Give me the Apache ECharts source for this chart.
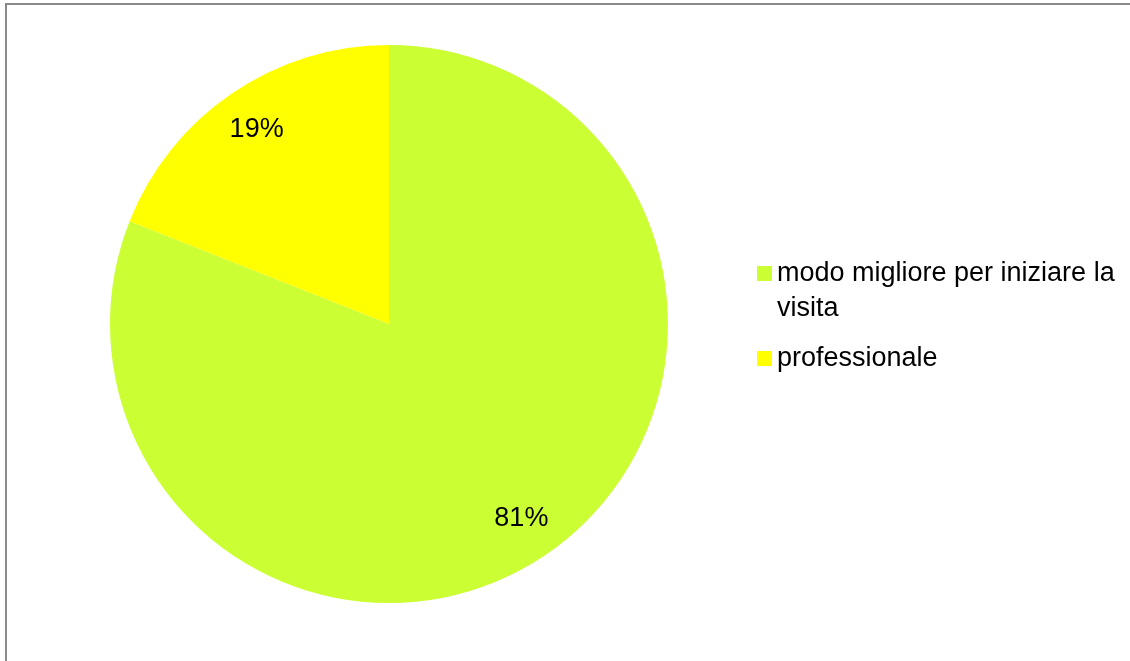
<!DOCTYPE html>
<html>
<head>
<meta charset="utf-8">
<script src="https://cdn.jsdelivr.net/npm/echarts@6/dist/echarts.min.js"></script>
<style>
  html, body { margin: 0; padding: 0; background: #fff; }
  #chart { width: 1130px; height: 661px; }
</style>
</head>
<body>
<div id="chart"></div>
<script>
// Categories and their shares (percent)
const categories = ['modo migliore per iniziare la visita', 'professionale'];
const shares = [81, 19];
const sliceColors = ['#ccff33', '#ffff00'];

const FONT = '"Liberation Sans", Arial, sans-serif';
const pieData = categories.map((name, i) => ({
  name: name,
  value: shares[i],
  itemStyle: { color: sliceColors[i] }
}));

const chart = echarts.init(document.getElementById('chart'), null, { renderer: 'canvas' });
chart.setOption({
  animation: false,
  backgroundColor: '#ffffff',
  graphic: [{
    type: 'rect',
    shape: { x: 6, y: 4, width: 1300, height: 1000 },
    style: { fill: 'none', stroke: '#8a8a8a', lineWidth: 2 },
    silent: true
  }],
  legend: {
    orient: 'vertical',
    left: 757,
    top: 221,
    padding: 0,
    itemWidth: 15,
    itemHeight: 15,
    itemGap: 15,
    icon: 'rect',
    selectedMode: false,
    // a leading blank line keeps the first text line level with its swatch
    // when the long name wraps onto a second line
    formatter: name => (name === categories[0] ? '\n' + name : name),
    textStyle: {
      fontFamily: FONT,
      fontSize: 27,
      color: '#000',
      lineHeight: 35,
      width: 350,
      overflow: 'break'
    },
    data: categories
  },
  series: [
    {
      type: 'pie',
      center: [389, 324],
      radius: [0, 279],
      startAngle: 90,
      clockwise: true,
      silent: true,
      label: { show: false },
      labelLine: { show: false },
      itemStyle: { borderWidth: 0 },
      data: pieData
    },
    {
      // transparent ring that only carries the percentage labels
      type: 'pie',
      center: [389, 324],
      radius: [186, 279],
      startAngle: 90,
      clockwise: true,
      silent: true,
      legendHoverLink: false,
      itemStyle: { color: 'rgba(0,0,0,0)', borderWidth: 0 },
      label: {
        show: true,
        position: 'inside',
        formatter: '{c}%',
        fontFamily: FONT,
        fontSize: 27,
        color: '#000'
      },
      labelLine: { show: false },
      data: categories.map((name, i) => ({ name: name, value: shares[i] }))
    }
  ]
});
</script>
</body>
</html>
